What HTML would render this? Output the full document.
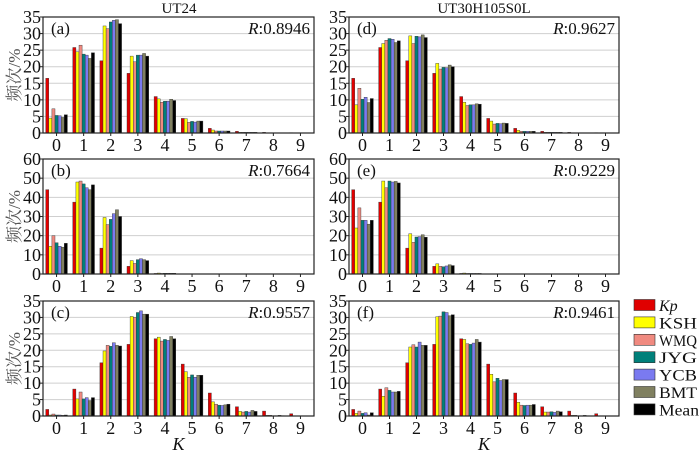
<!DOCTYPE html>
<html><head><meta charset="utf-8"><style>
body{margin:0;background:#fff;}
svg{display:block;}
svg text{font-family:"Liberation Serif","DejaVu Serif","Noto Serif CJK SC",serif;}
</style></head><body>
<svg id="c" width="700" height="455" viewBox="0 0 700 455" xmlns="http://www.w3.org/2000/svg"></svg>
<script>
const categories=[0,1,2,3,4,5,6,7,8,9];
const seriesNames=["Kp","KSH","WMQ","JYG","YCB","BMT","Mean"];
const seriesColors=["#e00000","#ffff00","#f08a80","#00807a","#7a7af0","#808060","#000000"];
const dataA=[[16.5,4.5,7.3,5.3,5.2,4.7,5.5],[25.8,24.5,26.5,23.8,23.5,22.5,24.2],[21.8,32.3,31.5,33.5,34,34.2,33],[18,23.2,21.5,23.5,23.5,24,23.2],[11,10.3,9.3,9.6,9.6,10.2,9.8],[4.4,4.3,3.2,3.5,3.3,3.6,3.6],[1.4,0.9,0.6,0.6,0.6,0.6,0.6],[0.5,0.2,0.2,0.2,0.2,0.2,0.2],[0.2,0.05,0.05,0.05,0.05,0.05,0.05],[0.1,0,0,0,0,0,0]];
const dataB=[[44,14.5,20,16.3,14.5,14,16],[37.5,48,48.5,47,45,44,46.5],[13.5,29.5,25.8,28.5,31.5,33.5,30],[4,7,5.5,7.5,8,7.5,7],[0.3,0.5,0.3,0.4,0.4,0.4,0.4],[0,0,0,0,0,0,0],[0,0,0,0,0,0,0],[0,0,0,0,0,0,0],[0,0,0,0,0,0,0],[0,0,0,0,0,0,0]];
const dataC=[[2,0.3,0.6,0.3,0.3,0.2,0.3],[8.2,5.2,7.3,5.2,5.6,4.7,5.6],[16.2,19.8,21.5,21.2,22.3,21.5,21.3],[21.8,30.3,30,31.5,32,31,31],[23.5,24,22.8,23.3,23,24.2,23.5],[15.8,13.5,11.8,12.5,11.8,12.4,12.4],[7,4.3,3.6,3.3,3.2,3.4,3.6],[2.8,1.4,1.2,1.4,1.2,1.7,1.4],[1.5,0.2,0.2,0.1,0.1,0.2,0.1],[0.7,0,0,0,0,0,0]];
const dataD=[[16.5,8.5,13.5,10.2,10.8,9.2,10.4],[25.8,27,28,28.5,28.3,27.3,27.8],[21.8,29.3,27,29.2,29,29.6,28.8],[18,21,19.3,19.8,19.7,20.5,20],[11,9.3,8.3,8.5,8.5,8.8,8.7],[4.4,3.6,2.7,2.9,2.8,3,2.9],[1.4,0.8,0.5,0.5,0.5,0.5,0.5],[0.5,0.2,0.2,0.2,0.2,0.2,0.2],[0.2,0.05,0.05,0.05,0.05,0.05,0.05],[0.1,0,0,0,0,0,0]];
const dataE=[[44,24,34.5,28,28,26,28],[37.5,48.5,45,48.5,48,48.3,47.5],[13.5,21,16.5,19.3,19.5,20.5,19.2],[4,5.3,4,3.8,4.2,4.8,4.4],[0.3,0.5,0.3,0.3,0.3,0.3,0.3],[0,0,0,0,0,0,0],[0,0,0,0,0,0,0],[0,0,0,0,0,0,0],[0,0,0,0,0,0,0],[0,0,0,0,0,0,0]];
const dataF=[[2,0.8,1.5,0.8,1,0.3,1],[8.2,6,8.6,7.8,7.3,7.3,7.5],[16.2,21,21.7,21,22.5,21.5,21.5],[21.8,30.2,30.4,31.7,31.5,30.5,30.8],[23.5,23.3,22,21.8,22.2,23.3,22.5],[15.8,12.7,10.4,11.5,10.8,11.1,11.1],[7,4.2,3.3,3.2,3.3,3.3,3.5],[2.8,1.2,1.2,1.3,1.1,1.5,1.3],[1.5,0.2,0.2,0.1,0.1,0.2,0.1],[0.7,0,0,0,0,0,0]];
const ticks35=[0,5,10,15,20,25,30,35];
const ticks60=[0,10,20,30,40,50,60];
const panelLabels=["(a)","(b)","(c)","(d)","(e)","(f)"];
const rValues=["0.8946","0.7664","0.9557","0.9627","0.9229","0.9461"];

const NS="http://www.w3.org/2000/svg";
const svg=document.getElementById('c');
function mk(tag,attrs,parent){const e=document.createElementNS(NS,tag);for(const k in attrs)e.setAttribute(k,attrs[k]);(parent||svg).appendChild(e);return e;}
function txt(s,attrs,parent){const e=mk('text',attrs,parent);e.textContent=s;return e;}

const cols=[[43,314],[349,619]];
const rows=[[17,133],[159,274],[301,416]];
const panels=[
 {d:dataA,t:ticks35,c:0,r:0},{d:dataB,t:ticks60,c:0,r:1},{d:dataC,t:ticks35,c:0,r:2},
 {d:dataD,t:ticks35,c:1,r:0},{d:dataE,t:ticks60,c:1,r:1},{d:dataF,t:ticks35,c:1,r:2}];

panels.forEach((p,i)=>{
  const [x0,x1]=cols[p.c],[y0,y1]=rows[p.r];
  const ymax=p.t[p.t.length-1];
  const yS=v=>y1-(v/ymax)*(y1-y0);
  const cw=(x1-x0)/categories.length;
  const xS=k=>x0+cw*(k+0.5);
  const g=mk('g',{});
  
  
  mk('rect',{x:x0,y:y0,width:x1-x0,height:y1-y0,fill:'#fff'},g);
  p.t.forEach(t=>{
    if(t>0&&t<ymax) mk('line',{x1:x0,x2:x1,y1:yS(t),y2:yS(t),stroke:'#cfcfcf','stroke-width':1},g);
    const tl=txt(String(t),{x:x0-2,y:yS(t)+6,'text-anchor':'end','font-size':18,fill:'#111'},g);
    
    
    mk('line',{x1:x0-3,x2:x0,y1:yS(t),y2:yS(t),stroke:'#222'},g);
  });
  const bw=3.1;
  categories.forEach((k,ki)=>{
    const cx=xS(ki);
    p.d[ki].forEach((v,si)=>{
      if(v<=0)return;
      const bx=cx-(7*bw)/2+si*bw;
      const b=mk('rect',{x:bx,y:yS(v),width:bw,height:y1-yS(v),fill:seriesColors[si],stroke:'#333','stroke-width':0.4},g);
      
      
    });
    const xl=txt(String(k),{x:cx,y:y1+18,'text-anchor':'middle','font-size':18,fill:'#111'},g);
    
    
    mk('line',{x1:cx,x2:cx,y1:y1,y2:y1+3,stroke:'#222'},g);
  });
  mk('rect',{x:x0,y:y0,width:x1-x0,height:y1-y0,fill:'none',stroke:'#222','stroke-width':1.2},g);
  const pl=txt(panelLabels[i],{x:x0+8,y:y0+17,'font-size':17,fill:'#111'},g);
  
  
  const rl=mk('text',{x:x1-4,y:y0+17,'text-anchor':'end','font-size':17,fill:'#111'},g);
  rl.innerHTML='<tspan font-style="italic">R</tspan>:'+rValues[i];
  
  
  if(p.c===0){
    const yl=txt('频次/%',{x:0,y:0,transform:`translate(20,${(y0+y1)/2}) rotate(-90)`,'text-anchor':'middle','font-size':17,fill:'#555'},g);
    
    
  }
  if(p.r===2){
    const kl=txt('K',{x:(x0+x1)/2,y:450,'text-anchor':'middle','font-size':18,'font-style':'italic',fill:'#111'},g);
    
    
  }
});
const t1=txt('UT24',{x:179,y:13,'text-anchor':'middle','font-size':15,fill:'#111'});


const t2=txt('UT30H105S0L',{x:484,y:13,'text-anchor':'middle','font-size':15,fill:'#111'});



const lg=mk('g',{});


seriesNames.forEach((n,i)=>{
  const y=305+i*17.4;
  const e=mk('g',{},lg);
  
  
  mk('rect',{x:634,y:y-5.5,width:21,height:11,fill:seriesColors[i],stroke:'#333','stroke-width':0.6},e);
  const lt=txt(n,{x:659,y:y+6,'font-size':16,fill:'#111','font-style':i===0?'italic':'normal',textLength:n.length>2?'38':null},e);
  if(n.length<=2) lt.removeAttribute('textLength'); else {lt.setAttribute('textLength',n==='Mean'?'40':'38');lt.setAttribute('lengthAdjust','spacingAndGlyphs');}
});
</script>
</body></html>
